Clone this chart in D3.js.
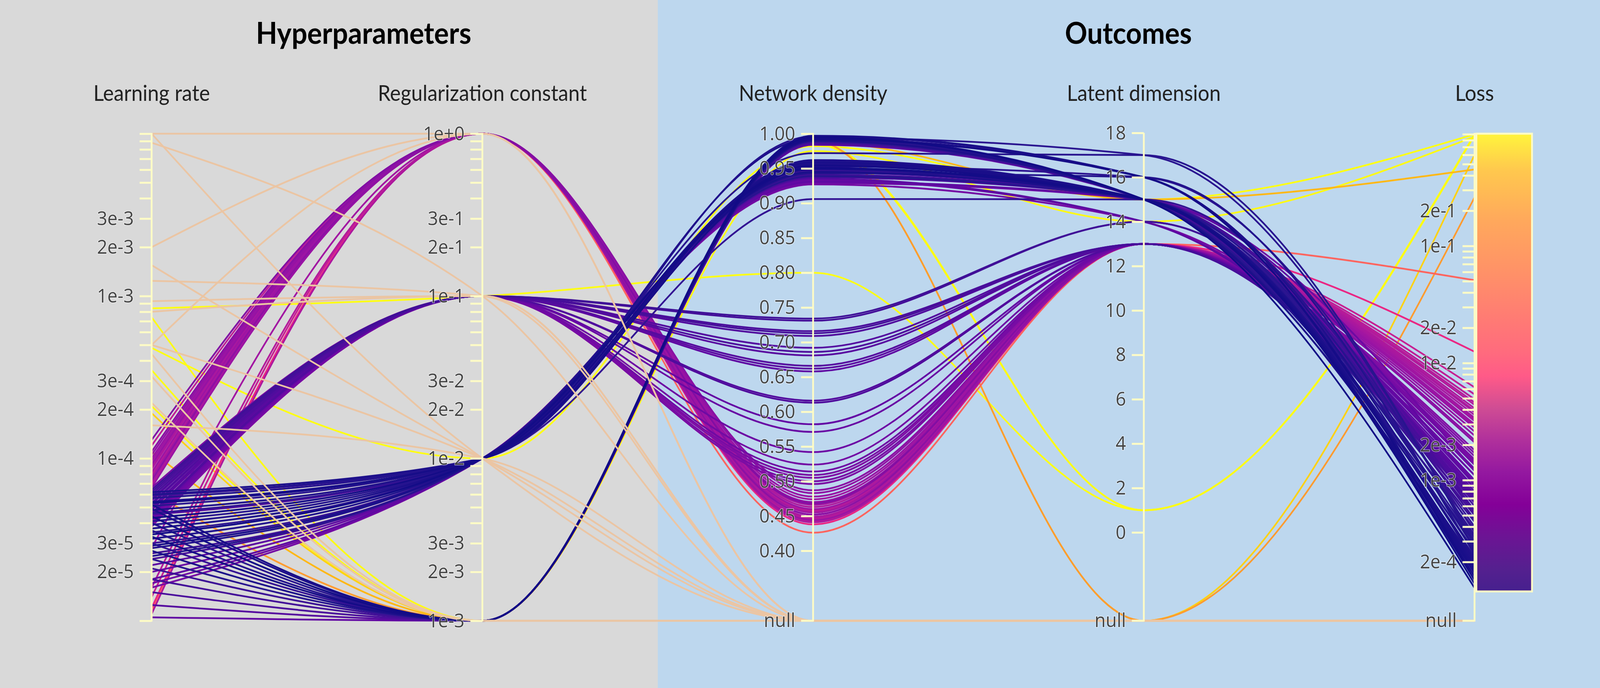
<!DOCTYPE html>
<html>
<head>
<meta charset="utf-8">
<script src="https://cdn.jsdelivr.net/npm/d3@7"></script>
<style>
html, body { margin: 0; padding: 0; background: #ffffff; width: 100%; height: 100%; overflow: hidden; }
#chart { display: block; width: 100vw; height: 100vh; }
</style>
</head>
<body>
<svg id="chart" viewBox="0 0 4400 1760" preserveAspectRatio="none"></svg>
<script>
// ---- data (one entry per run, null = not available) ----
var dimensions = ["Learning rate", "Regularization constant", "Network density", "Latent dimension", "Loss"];
var panelTitles = ["Hyperparameters", "Outcomes"];

var learningRate = [
  // reg 1e+0 runs
  1.10e-4, 1.05e-4, 1.00e-4, 9.6e-5, 9.2e-5, 8.9e-5, 8.6e-5, 8.2e-5, 7.9e-5, 7.6e-5, 7.3e-5,
  7.0e-5, 6.8e-5, 6.6e-5, 1.3e-4, 1.2e-4, 2.8e-5, 1.6e-5, 1.1e-5, 1.2e-5, 1.15e-5, 1.4e-5,
  // reg 1e-1 runs
  6.4e-5, 6.2e-5, 6.0e-5, 5.8e-5, 5.6e-5, 5.5e-5, 5.3e-5, 5.2e-5, 5.0e-5, 4.9e-5, 4.8e-5,
  4.6e-5, 4.5e-5, 4.4e-5, 4.3e-5, 4.2e-5, 4.1e-5, 4.0e-5, 3.95e-5, 3.9e-5, 6.6e-5, 3.8e-5,
  // reg 1e-2 runs
  6.2e-5, 6.0e-5, 5.7e-5, 5.4e-5, 5.1e-5, 4.8e-5, 4.6e-5, 4.3e-5, 4.1e-5, 3.9e-5, 3.7e-5,
  3.5e-5, 3.4e-5, 3.2e-5, 3.0e-5, 2.9e-5, 2.8e-5, 2.6e-5, 2.5e-5, 2.4e-5, 2.2e-5, 2.0e-5,
  1.8e-5, 1.7e-5, 1.6e-5, 5.9e-5, 5.3e-5, 4.5e-5,
  // reg 1e-3 runs
  5.2e-5, 4.9e-5, 4.4e-5, 4.0e-5, 3.6e-5, 3.3e-5, 3.0e-5, 2.7e-5, 2.4e-5, 2.1e-5, 1.8e-5,
  1.5e-5, 1.25e-5, 1.05e-5,
  // high-loss runs
  8.4e-4, 7.4e-4, 3.5e-4, 4.8e-4, 2.1e-4, 1.9e-4, 1.1e-4, 6.2e-5,
  // failed runs
  1.0e-2, 1.0e-2, 8.8e-3, 2.0e-3, 1.55e-3, 1.24e-3, 9.3e-4, 8.0e-4, 5.0e-4, 5.0e-4,
  4.4e-4, 3.2e-4, 2.2e-4, 1.6e-4
];

var regularization = [
  1, 1, 1, 1, 1, 1, 1, 1, 1, 1, 1, 1, 1, 1, 1, 1, 1, 1, 1, 1, 1, 1,
  1e-1, 1e-1, 1e-1, 1e-1, 1e-1, 1e-1, 1e-1, 1e-1, 1e-1, 1e-1, 1e-1,
  1e-1, 1e-1, 1e-1, 1e-1, 1e-1, 1e-1, 1e-1, 1e-1, 1e-1, 1e-1, 1e-1,
  1e-2, 1e-2, 1e-2, 1e-2, 1e-2, 1e-2, 1e-2, 1e-2, 1e-2, 1e-2, 1e-2,
  1e-2, 1e-2, 1e-2, 1e-2, 1e-2, 1e-2, 1e-2, 1e-2, 1e-2, 1e-2, 1e-2,
  1e-2, 1e-2, 1e-2, 1e-2, 1e-2, 1e-2,
  1e-3, 1e-3, 1e-3, 1e-3, 1e-3, 1e-3, 1e-3, 1e-3, 1e-3, 1e-3, 1e-3,
  1e-3, 1e-3, 1e-3,
  1e-1, 1e-3, 1e-3, 1e-2, 1e-3, 1e-3, 1e-3, 1e-3,
  1, 1e-2, 1e-1, 1, 1e-2, 1e-1, 1e-1, 1e-1, 1, 1e-2,
  1e-3, 1e-3, 1e-3, 1e-2
];

var density = [
  0.487, 0.483, 0.478, 0.474, 0.470, 0.466, 0.463, 0.460, 0.457, 0.455, 0.452,
  0.449, 0.446, 0.444, 0.468, 0.458, 0.452, 0.447, 0.441, 0.438, 0.426, 0.443,
  0.734, 0.731, 0.716, 0.713, 0.709, 0.692, 0.686, 0.681, 0.666, 0.662, 0.658,
  0.616, 0.613, 0.582, 0.571, 0.542, 0.524, 0.514, 0.509, 0.500, 0.496, 0.505,
  0.962, 0.960, 0.996, 0.959, 0.957, 0.993, 0.955, 0.954, 0.972, 0.958, 0.956,
  0.953, 0.951, 0.949, 0.947, 0.945, 0.943, 0.941, 0.939, 0.937, 0.935, 0.933,
  0.931, 0.929, 0.927, 0.906, 0.950, 0.944,
  0.997, 0.996, 0.995, 0.994, 0.993, 0.992, 0.991, 0.990, 0.989, 0.988, 0.987,
  0.986, 0.985, 0.984,
  0.800, 0.985, 0.987, 0.982, 0.975, 0.990, 0.988, 0.990,
  null, null, null, null, null, null, null, null, null, null,
  null, null, null, null
];

var latentDim = [
  13, 13, 13, 13, 13, 13, 13, 13, 13, 13, 13, 13, 13, 13, 13, 13, 13, 13, 13, 13, 13, 13,
  14, 14, 13, 13, 13, 13, 13, 13, 13, 13, 13,
  13, 13, 13, 13, 13, 13, 13, 13, 13, 13, 13,
  15, 15, 16, 15, 15, 16, 15, 15, 17, 15, 15,
  16, 15, 15, 15, 15, 16, 15, 15, 15, 14, 14,
  15, 15, 14, 15, 15, 15,
  16, 15, 15, 17, 15, 16, 15, 15, 15, 15, 15,
  15, 15, 15,
  1, 1, 1, 15, 14, null, 15, null,
  null, null, null, null, null, null, null, null, null, null,
  null, null, null, null
];

var loss = [
  2.1e-3, 2.4e-3, 2.8e-3, 3.2e-3, 2.6e-3, 3.6e-3, 4.1e-3, 3.0e-3, 4.6e-3, 3.4e-3, 2.2e-3,
  3.8e-3, 4.9e-3, 2.9e-3, 1.8e-3, 5.4e-3, 3.3e-3, 4.4e-3, 3.9e-3, 1.25e-2, 5.1e-2, 6.2e-3,
  4.6e-4, 5.2e-4, 6.0e-4, 5.5e-4, 6.8e-4, 7.2e-4, 6.4e-4, 8.0e-4, 7.6e-4, 8.6e-4, 9.2e-4,
  7.0e-4, 6.6e-4, 1.0e-3, 1.1e-3, 1.2e-3, 1.35e-3, 1.25e-3, 1.5e-3, 1.45e-3, 1.6e-3, 1.7e-3,
  1.9e-4, 2.2e-4, 2.6e-4, 1.6e-4, 3.0e-4, 2.0e-4, 3.4e-4, 1.4e-4, 2.8e-4, 2.4e-4, 1.8e-4,
  3.2e-4, 1.3e-4, 2.1e-4, 4.0e-4, 1.7e-4, 2.3e-4, 4.6e-4, 2.7e-4, 5.5e-4, 8.5e-4, 1.1e-3,
  9.0e-4, 1.2e-3, 1.4e-3, 3.6e-4, 1.5e-4, 6.5e-4,
  1.6e-4, 2.0e-4, 1.2e-4, 3.0e-4, 2.5e-4, 1.4e-4, 3.8e-4, 1.8e-4, 2.9e-4, 4.4e-4, 5.0e-4,
  6.0e-4, 7.5e-4, 9.5e-4,
  0.90, 0.88, 0.90, 0.90, 0.86, 0.60, 0.45, 0.26,
  null, null, null, null, null, null, null, null, null, null,
  null, null, null, null
];

// labelled ticks (other log ticks are drawn unlabelled)
var lrTickLabels = [3e-3, 2e-3, 1e-3, 3e-4, 2e-4, 1e-4, 3e-5, 2e-5];
var regTickLabels = [1, 3e-1, 2e-1, 1e-1, 3e-2, 2e-2, 1e-2, 3e-3, 2e-3, 1e-3];
var lossTickLabels = [2e-1, 1e-1, 2e-2, 1e-2, 2e-3, 1e-3, 2e-4];

// line colour ramp (by loss) and colour bar stops
var colorStops = [1.12e-4, 3e-4, 1e-3, 3e-3, 8e-3, 2e-2, 5e-2, 0.15, 0.3, 0.5, 0.91];
var colorRamp = ["#0f0a85", "#2a1590", "#6408a4", "#9c14a4", "#d6248c", "#ff2a7c",
                 "#ff6460", "#ff8c44", "#ffa02c", "#ffbe12", "#ffff14"];
var barOffsets = [0, 0.08, 0.19, 0.29, 0.39, 0.48, 0.53, 0.60, 0.67, 0.74, 0.81, 0.88, 0.95, 1];
var barColors = ["#fff43c", "#ffc84e", "#ffa85c", "#ff9466", "#ff7e72", "#ff6a7e", "#ff5a88",
                 "#cf4c94", "#b0309c", "#9418a0", "#840098", "#6c1494", "#55208f", "#46208e"];

var nullColor = "#ebc5a3";
var axisColor = "#fdfbc6";

// ---- layout ----
var svg = d3.select("#chart");
var axisTop = 342, nullY = 1588;

svg.append("rect").attr("x", 0).attr("y", 0).attr("width", 1809).attr("height", 1760).attr("fill", "#d9d9d9");
svg.append("rect").attr("x", 1809).attr("y", 0).attr("width", 2591).attr("height", 1760).attr("fill", "#bdd7ee");

var x = d3.scalePoint().domain(dimensions).range([417, 4055]);

var yScales = {};
yScales["Learning rate"] = d3.scaleLog().domain([1e-5, 1e-2]).range([1588, axisTop]);
yScales["Regularization constant"] = d3.scaleLog().domain([1e-3, 1]).range([1588, axisTop]);
yScales["Network density"] = d3.scaleLinear().domain([0.40, 1.00]).range([1409, axisTop]);
yScales["Latent dimension"] = d3.scaleLinear().domain([0, 18]).range([1362, 340]);
yScales["Loss"] = d3.scaleLog().domain([1.12e-4, 0.91]).range([1513, axisTop]);

var lineColor = d3.scaleLog().domain(colorStops).range(colorRamp)
    .interpolate(d3.interpolateRgb).clamp(true);

var runs = learningRate.map(function (v, i) {
    return [v, regularization[i], density[i], latentDim[i], loss[i]];
});

var line = d3.line().curve(d3.curveMonotoneX);
function runPath(r) {
    return line(dimensions.map(function (dim, j) {
        return [x(dim), r[j] == null ? nullY : yScales[dim](r[j])];
    }));
}

// high loss drawn first, failed runs on top
var coloured = runs.filter(function (r) { return r[4] != null; })
    .sort(function (a, b) { return b[4] - a[4]; });
var failed = runs.filter(function (r) { return r[4] == null; });

var lines = svg.append("g").attr("fill", "none").attr("stroke-linecap", "round");
lines.selectAll(".run").data(coloured).enter().append("path")
    .attr("class", "run")
    .attr("d", runPath)
    .attr("stroke", function (d) { return lineColor(d[4]); })
    .attr("stroke-width", 4.5);
lines.selectAll(".failed").data(failed).enter().append("path")
    .attr("class", "failed")
    .attr("d", runPath)
    .attr("stroke", nullColor)
    .attr("stroke-width", 4.5);

// ---- colour bar ----
var defs = svg.append("defs");
var grad = defs.append("linearGradient").attr("id", "lossGrad")
    .attr("x1", 0).attr("y1", 0).attr("x2", 0).attr("y2", 1);
grad.selectAll("stop").data(barOffsets).enter().append("stop")
    .attr("offset", function (d) { return d; })
    .attr("stop-color", function (d, i) { return barColors[i]; });

var lossY = yScales["Loss"];
svg.append("rect")
    .attr("x", 4060).attr("y", lossY.range()[1])
    .attr("width", 153).attr("height", lossY.range()[0] - lossY.range()[1])
    .attr("fill", "url(#lossGrad)")
    .attr("stroke", axisColor).attr("stroke-width", 5);

// ---- axes ----
var fmtExp = d3.format(".0e");
var labelSets = {
    "Learning rate": lrTickLabels,
    "Regularization constant": regTickLabels,
    "Loss": lossTickLabels
};

function haloText(sel) {
    sel.attr("fill", "#444444")
        .attr("stroke", "#ffffff").attr("stroke-opacity", 0.55).attr("stroke-width", 3)
        .attr("paint-order", "stroke")
        .style("font-family", "'Open Sans', sans-serif")
        .style("font-size", "50px");
}

dimensions.forEach(function (dim, j) {
    var s = yScales[dim];
    var g = svg.append("g").attr("transform", "translate(" + x(dim) + ",0)");
    var axis = d3.axisLeft(s).tickSize(33).tickSizeOuter(0).tickPadding(16);

    if (labelSets[dim]) {
        var labelled = labelSets[dim].map(function (v) { return fmtExp(v); });
        axis.ticks(10).tickFormat(function (v) {
            var t = fmtExp(v);
            return labelled.indexOf(t) >= 0 ? t : "";
        });
    } else if (dim === "Network density") {
        axis.ticks(12).tickFormat(d3.format(".2f"));
    } else {
        axis.ticks(9).tickFormat(d3.format("d"));
    }
    g.call(axis);
    g.select(".domain").remove();
    g.selectAll(".tick line").attr("stroke", axisColor).attr("stroke-width", 5);
    g.selectAll(".tick text").call(haloText);

    var lastY = (j >= 2) ? nullY : s.range()[0];
    g.append("line").attr("x1", 0).attr("x2", 0)
        .attr("y1", axisTop - 2).attr("y2", lastY + 2)
        .attr("stroke", axisColor).attr("stroke-width", 5);

    if (j >= 2) {
        g.append("line").attr("x1", -33).attr("x2", 0).attr("y1", nullY).attr("y2", nullY)
            .attr("stroke", axisColor).attr("stroke-width", 5);
        g.append("text").attr("x", -49).attr("y", nullY).attr("dy", "0.32em")
            .attr("text-anchor", "end").text("null").call(haloText);
    }

    svg.append("text")
        .attr("x", x(dim)).attr("y", 258)
        .attr("text-anchor", "middle")
        .attr("fill", "#222222")
        .style("font-family", "Lato, sans-serif")
        .style("font-size", "56px")
        .text(dim);
});

// ---- panel titles ----
var titleX = [1000, 3103];
svg.selectAll(".panel-title").data(panelTitles).enter().append("text")
    .attr("class", "panel-title")
    .attr("x", function (d, i) { return titleX[i]; })
    .attr("y", 112)
    .attr("text-anchor", "middle")
    .attr("fill", "#000000")
    .style("font-family", "Lato, sans-serif")
    .style("font-weight", "bold")
    .style("font-size", "76px")
    .text(function (d) { return d; });
</script>
</body>
</html>
